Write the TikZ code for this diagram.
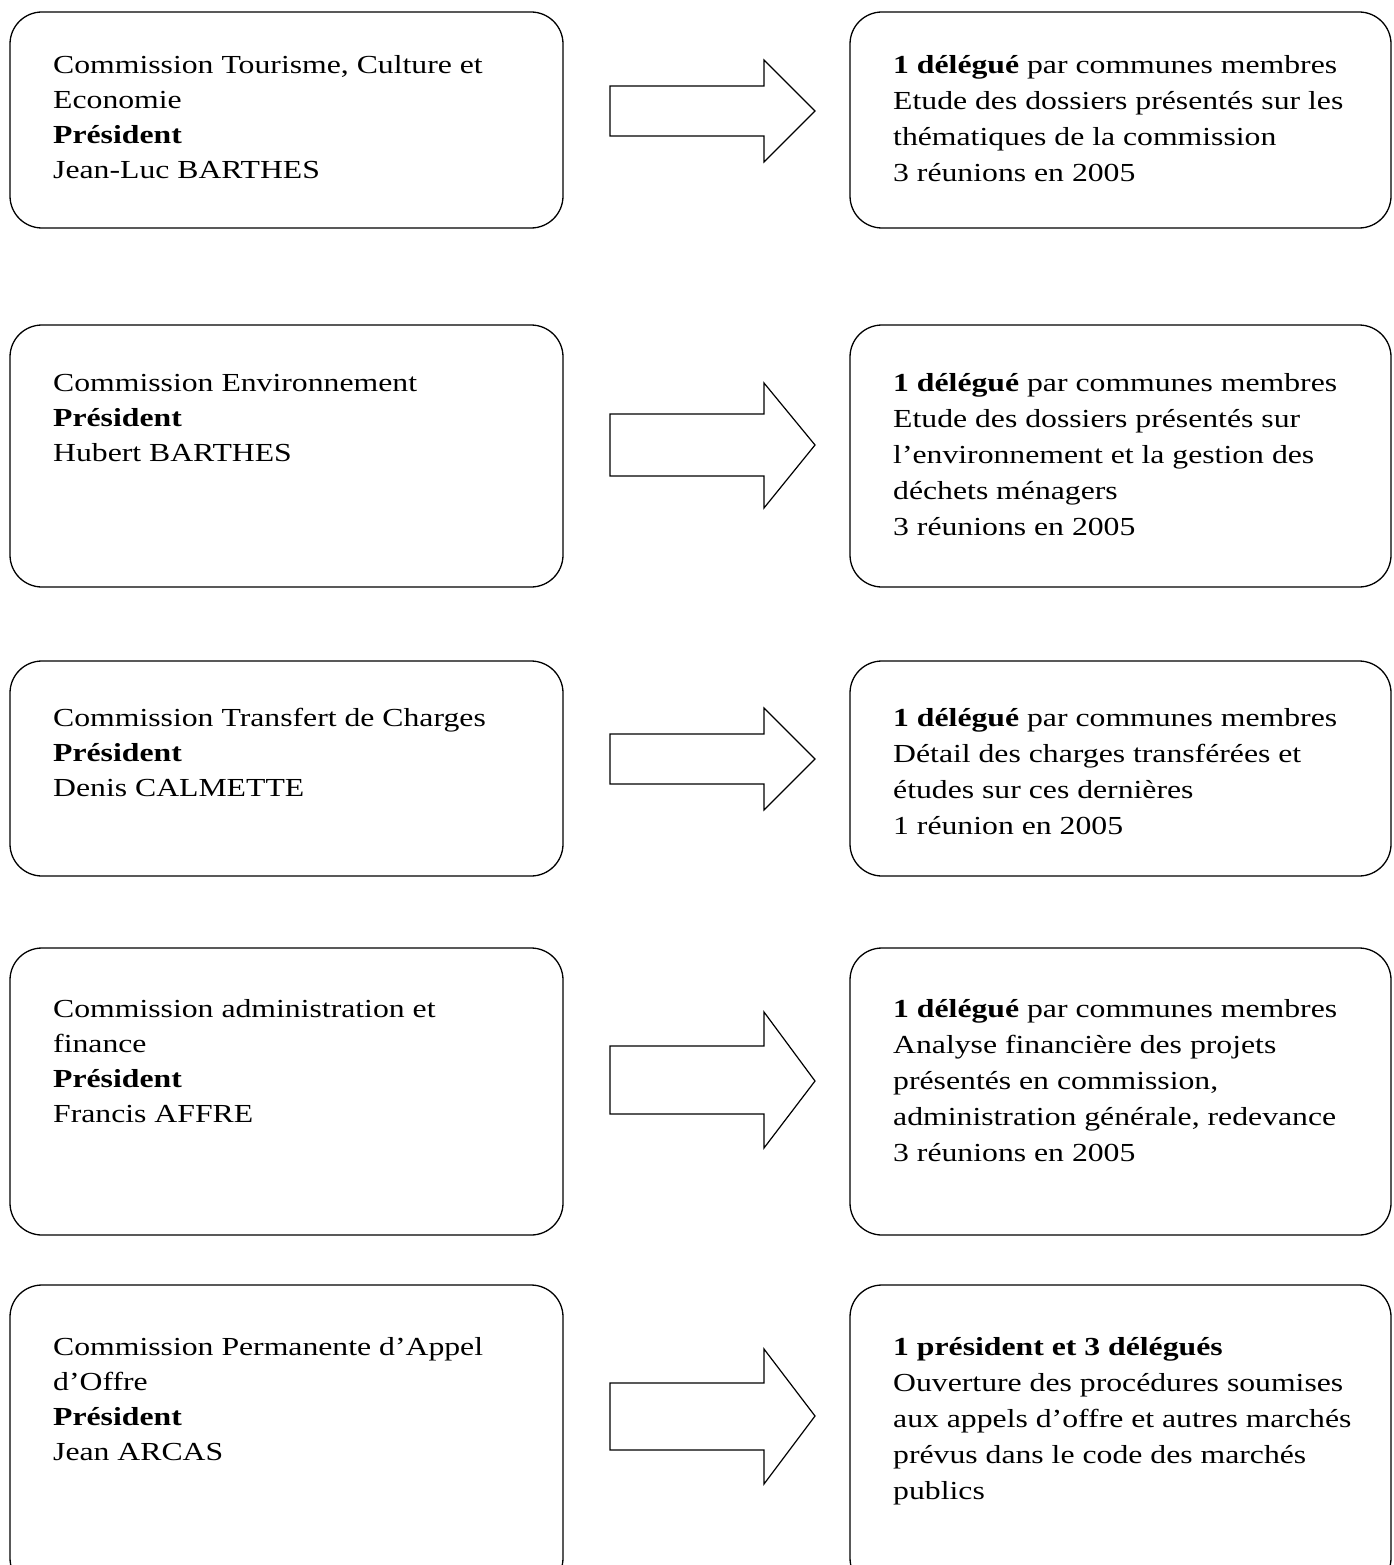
\documentclass[tikz,border=0pt]{standalone}
\usepackage{fontspec}
\setmainfont{Liberation Serif}[FakeStretch=1.22]
\newcommand{\lefttext}[1]{\parbox[t]{520pt}{\raggedright\fontsize{26}{35}\selectfont #1}}
\newcommand{\righttext}[1]{\parbox[t]{540pt}{\raggedright\fontsize{26}{36}\selectfont #1}}
\newcommand{\blockarr}[5]{%
  \draw[blockarrow] (610,#1) -- (764,#1) -- (764,#3) -- (815,#5) -- (764,#4) -- (764,#2) -- (610,#2) -- cycle;}
\tikzset{
  box/.style={draw=black, line width=1.3pt, rounded corners=32pt},
  blockarrow/.style={draw=black, line width=1.2pt, fill=white, line join=miter},
  txt/.style={anchor=base west, inner sep=0pt},
}
\begin{document}
\begin{tikzpicture}[x=1pt, y=-1pt]
\useasboundingbox (0,0) rectangle (1393,1565);
\clip (0,0) rectangle (1393,1565);

% boxes
\draw[box] (10,12) rectangle (563,228);
\draw[box] (850,12) rectangle (1391,228);
\draw[box] (10,325) rectangle (563,587);
\draw[box] (850,325) rectangle (1391,587);
\draw[box] (10,661) rectangle (563,876);
\draw[box] (850,661) rectangle (1391,876);
\draw[box] (10,948) rectangle (563,1235);
\draw[box] (850,948) rectangle (1391,1235);
\draw[box] (10,1285) rectangle (563,1590);
\draw[box] (850,1285) rectangle (1391,1590);

% block arrows
\blockarr{86}{136}{60}{162}{111}
\blockarr{414}{476}{383}{508}{445}
\blockarr{734}{784}{708}{810}{759}
\blockarr{1046}{1114}{1012}{1148}{1081}
\blockarr{1383}{1450}{1349}{1484}{1416}

% texts row 1
\node[txt] (l1) at (53,74) {\lefttext{Commission Tourisme, Culture et\\Economie\\\textbf{Président}\\Jean-Luc BARTHES}};
\node[txt] (r1) at (893,74) {\righttext{\textbf{1 délégué} par communes membres\\Etude des dossiers présentés sur les\\thématiques de la commission\\3 réunions en 2005}};
% row 2
\node[txt] (l2) at (53,391) {\lefttext{Commission Environnement\\\textbf{Président}\\Hubert BARTHES}};
\node[txt] (r2) at (893,391) {\righttext{\textbf{1 délégué} par communes membres\\Etude des dossiers présentés sur\\l’environnement et la gestion des\\déchets ménagers\\3 réunions en 2005}};
% row 3
\node[txt] (l3) at (53,726) {\lefttext{Commission Transfert de Charges\\\textbf{Président}\\Denis CALMETTE}};
\node[txt] (r3) at (893,726) {\righttext{\textbf{1 délégué} par communes membres\\Détail des charges transférées et\\études sur ces dernières\\1 réunion en 2005}};
% row 4
\node[txt] (l4) at (53,1017) {\lefttext{Commission administration et\\finance\\\textbf{Président}\\Francis AFFRE}};
\node[txt] (r4) at (893,1017) {\righttext{\textbf{1 délégué} par communes membres\\Analyse financière des projets\\présentés en commission,\\administration générale, redevance\\3 réunions en 2005}};
% row 5
\node[txt] (l5) at (53,1355) {\lefttext{Commission Permanente d’Appel\\d’Offre\\\textbf{Président}\\Jean ARCAS}};
\node[txt] (r5) at (893,1355) {\righttext{\textbf{1 président et 3 délégués}\\Ouverture des procédures soumises\\aux appels d’offre et autres marchés\\prévus dans le code des marchés\\publics}};
\end{tikzpicture}
\end{document}
